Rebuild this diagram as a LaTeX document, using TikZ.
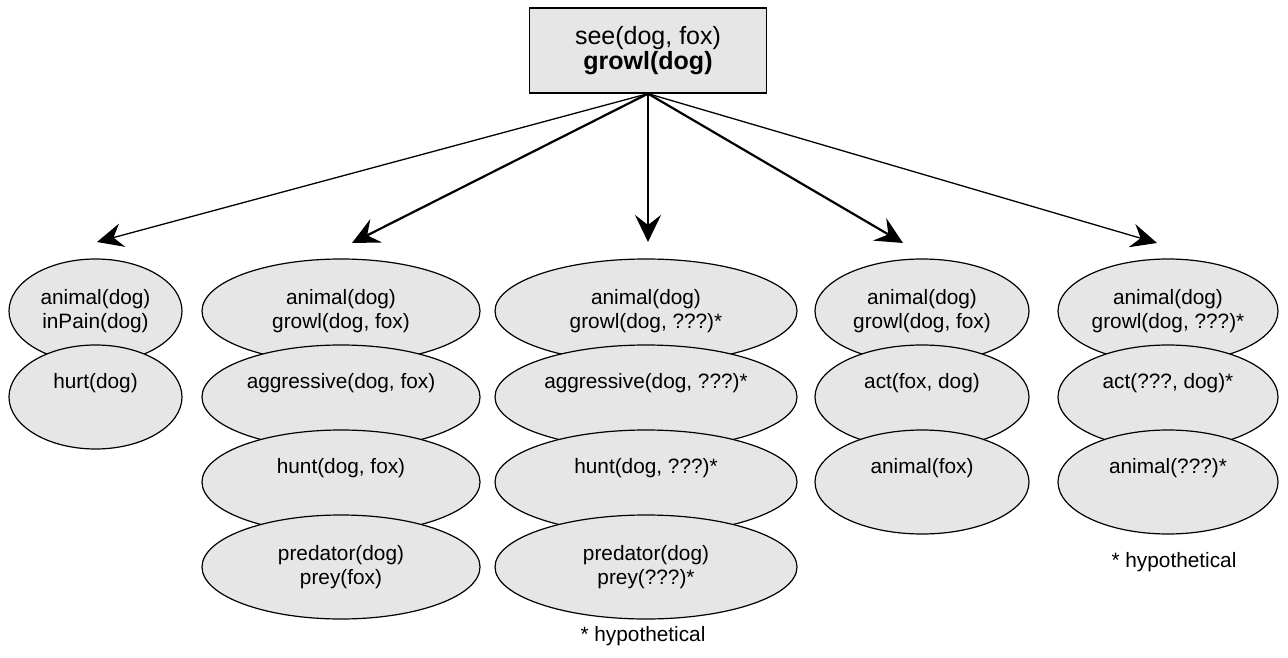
\documentclass[tikz,border=0pt]{standalone}
\usepackage{fontspec}
\setmainfont{Liberation Sans}
\usetikzlibrary{shapes.geometric,arrows.meta}
\definecolor{fillgray}{HTML}{E6E6E6}

\begin{document}
\begin{tikzpicture}[
    x=1pt, y=-1pt,
    box/.style={rectangle, draw, fill=fillgray, line width=1.3pt, minimum width=237pt, minimum height=85pt, align=center, font=\fontsize{25}{25}\selectfont},
    blob/.style={ellipse, draw, fill=fillgray, line width=1.2pt, inner xsep=-40pt, inner ysep=-20pt, minimum height=104pt, align=center, font=\fontsize{20.8}{24}\selectfont},
    small/.style={blob, minimum width=173pt},
    mid/.style={blob, minimum width=214pt},
    midplus/.style={blob, minimum width=220pt},
    wide/.style={blob, minimum width=278pt},
    wideplus/.style={blob, minimum width=302pt},
    note/.style={font=\fontsize{20.8}{24}\selectfont},
    arrow/.style={-{Stealth[length=27pt, width=26pt, inset=10pt]}, line width=2.2pt},
    thinarrow/.style={-{Stealth[length=26pt, width=24pt, inset=9pt]}, line width=1.3pt}
  ]
    \useasboundingbox (0,0) rectangle (1288,658);

    % Observation
    \node[box] (obs) at (648,50.5) {see(dog, fox)\\\textbf{growl(dog)}};

    % Arrow ends
    \coordinate (t1) at (97,242);
    \coordinate (t2) at (352,243);
    \coordinate (t3) at (648,242);
    \coordinate (t4) at (903,243);
    \coordinate (t5) at (1157,243);

    % Explanation 1
    \node[small] (pain) at (95.5,311) {animal(dog)\\inPain(dog)};
    \node[small] (hurt) at (95.5,397) {hurt(dog)\\\strut};

    % Explanation 2
    \node[wide] (growl) at (341,311) {animal(dog)\\growl(dog, fox)};
    \node[wide] (aggr) at (341,397) {aggressive(dog, fox)\\\strut};
    \node[wide] (hunt) at (341,482) {hunt(dog, fox)\\\strut};
    \node[wide] (pred) at (341,567) {predator(dog)\\prey(fox)};

    % Explanation 3
    \node[wideplus] (growlh) at (646,311) {animal(dog)\\growl(dog, ???)*};
    \node[wideplus] (aggrh) at (646,397) {aggressive(dog, ???)*\\\strut};
    \node[wideplus] (hunth) at (646,482) {hunt(dog, ???)*\\\strut};
    \node[wideplus] (predh) at (646,567) {predator(dog)\\prey(???)*};
    \node[note] (hyp1) at (643,636) {* hypothetical};

    % Explanation 4
    \node[mid] (warn) at (922,311) {animal(dog)\\growl(dog, fox)};
    \node[mid] (act) at (922,397) {act(fox, dog)\\\strut};
    \node[mid] (fox) at (922,482) {animal(fox)\\\strut};

    % Explanation 5
    \node[midplus] (warnh) at (1168,311) {animal(dog)\\growl(dog, ???)*};
    \node[midplus] (acth) at (1168,397) {act(???, dog)*\\\strut};
    \node[midplus] (foxh) at (1168,482) {animal(???)*\\\strut};
    \node[note] (hyp2) at (1174,562) {* hypothetical};

    % Arrows
    \draw[thinarrow] (obs.south) -- (t1);
    \draw[arrow] (obs.south) -- (t2);
    \draw[arrow] (obs.south) -- (t3);
    \draw[arrow] (obs.south) -- (t4);
    \draw[thinarrow] (obs.south) -- (t5);
\end{tikzpicture}
\end{document}
